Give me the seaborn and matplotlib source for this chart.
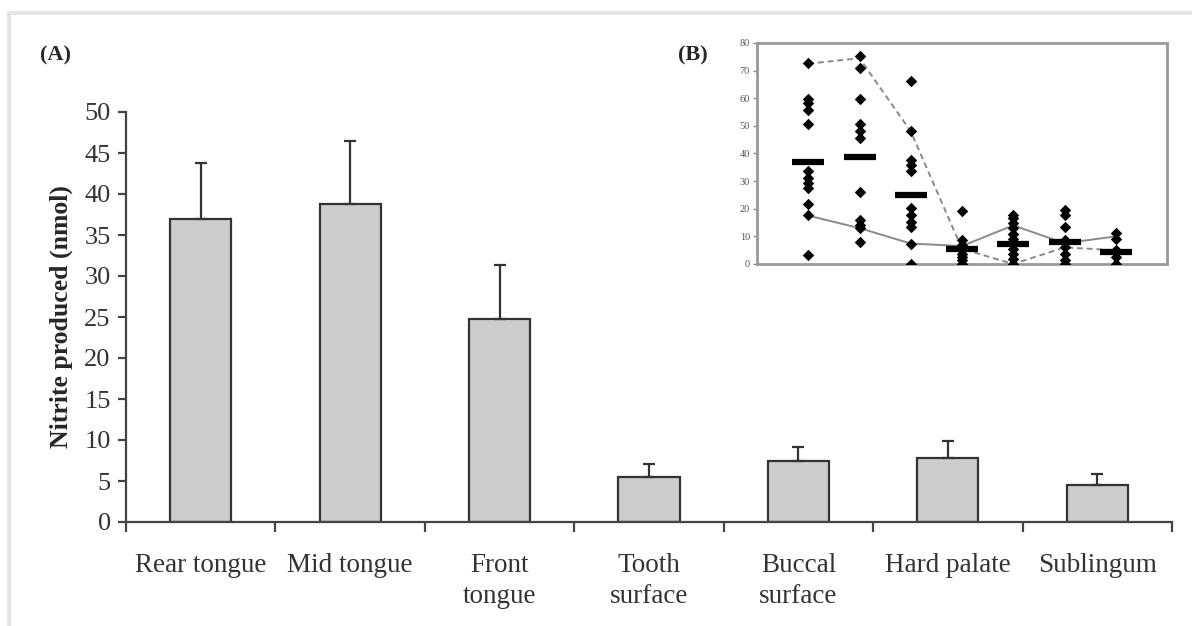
import numpy as np
import matplotlib
matplotlib.use("Agg")
import matplotlib.pyplot as plt
from matplotlib.lines import Line2D
import seaborn as sns

# bar chart (A)
sites = ["Rear tongue", "Mid tongue", "Front\ntongue", "Tooth\nsurface",
         "Buccal\nsurface", "Hard palate", "Sublingum"]
mean_nitrite = [37.0, 38.8, 24.8, 5.5, 7.4, 7.8, 4.5]
err_nitrite = [6.8, 7.7, 6.5, 1.6, 1.8, 2.1, 1.4]

# inset (B): individual subjects per site
rear_pts = [72.9, 59.6, 58.4, 55.9, 50.5, 33.7, 31.0, 29.2, 27.4, 21.6, 17.7, 3.2]
mid_pts = [75.4, 71.1, 59.6, 50.5, 48.0, 45.6, 26.0, 15.9, 14.0, 12.9, 8.0]
front_pts = [66.3, 48.3, 37.7, 35.9, 33.7, 20.1, 17.7, 15.3, 13.5, 7.4, 0.0]
tooth_pts = [19.3, 8.6, 7.0, 5.0, 3.8, 2.5, 1.3, 0.0]
buccal_pts = [17.7, 16.5, 14.7, 12.9, 11.0, 9.2, 7.8, 5.6, 3.8, 1.9, 0.0]
hard_pts = [19.5, 17.7, 13.5, 8.6, 6.2, 3.8, 1.3, 0.0]
sub_pts = [11.3, 9.2, 5.0, 2.5, 0.0]
subject_1 = [17.5, 13.0, 7.4, 6.5, 14.0, 7.5, 10.0]
subject_2 = [72.5, 74.5, 48.0, 5.5, 0.0, 6.0, 5.0]

sns.set_style("ticks")
plt.rcParams["font.family"] = ["Liberation Serif", "DejaVu Serif"]

fig = plt.figure(figsize=(11.92, 6.26), dpi=100)

# light grey frame round the figure
fig.add_artist(Line2D([9 / 1192, 1], [1 - 13 / 626] * 2, color="#e6e6e6", lw=3,
                      transform=fig.transFigure))
fig.add_artist(Line2D([9 / 1192] * 2, [0, 1 - 13 / 626], color="#e6e6e6", lw=3,
                      transform=fig.transFigure))

ax = fig.add_axes([126 / 1192, 1 - 522 / 626, 1046 / 1192, 410 / 626])
sns.barplot(x=sites, y=mean_nitrite, color="#cccccc", edgecolor="#333333",
            linewidth=1.6, width=0.41, errorbar=None, saturation=1, ax=ax)
xpos = np.arange(len(sites))
ax.errorbar(xpos, mean_nitrite, yerr=[np.zeros(len(sites)), err_nitrite],
            fmt="none", ecolor="#333333", elinewidth=1.6, capsize=4.5, capthick=1.6)

ax.set_xlim(-0.5, len(sites) - 0.5)
ax.set_ylim(0, 50)
ax.set_yticks(range(0, 51, 5))
ax.set_xticks(np.arange(-0.5, len(sites), 1.0), minor=True)
ax.tick_params(axis="x", which="major", length=0, labelsize=19.5, pad=22,
               colors="#333333")
for lab in ax.get_xticklabels():
    lab.set_linespacing(1.35)
ax.tick_params(axis="x", which="minor", length=7, width=1.6, color="#444444")
ax.tick_params(axis="y", length=6, width=1.6, labelsize=19, color="#444444",
               labelcolor="#333333", pad=5)
ax.set_ylabel("Nitrite produced (nmol)", fontsize=18.5, fontweight="bold", labelpad=8)
for s in ["top", "right"]:
    ax.spines[s].set_visible(False)
for s in ["left", "bottom"]:
    ax.spines[s].set_linewidth(1.6)
    ax.spines[s].set_color("#444444")

fig.text(40 / 1192, 1 - 55 / 626, "(A)", fontsize=16, fontweight="bold",
         va="center", ha="left")
fig.text(678 / 1192, 1 - 55 / 626, "(B)", fontsize=16, fontweight="bold",
         va="center", ha="left")

# inset
ins = fig.add_axes([757 / 1192, 1 - 264 / 626, 410 / 1192, 221 / 626])
groups = [rear_pts, mid_pts, front_pts, tooth_pts, buccal_pts, hard_pts, sub_pts]
xs = np.arange(1, 8)
ins.plot(xs, subject_1, color="#8a8a8a", lw=1.4, ls="-")
ins.plot(xs, subject_2, color="#8a8a8a", lw=1.4, ls=(0, (3, 2)))
for i, pts in enumerate(groups):
    ins.scatter([xs[i]] * len(pts), pts, marker="D", s=34, color="black",
                linewidths=0, zorder=3)
ins.scatter(xs, mean_nitrite, marker="_", s=520, linewidths=4.5, color="black", zorder=4)
ins.set_xlim(0, 8)
ins.set_ylim(0, 80)
ins.set_yticks(range(0, 81, 10))
ins.set_xticks([])
ins.tick_params(axis="y", length=3, width=1, labelsize=7.5, color="#888888",
                labelcolor="#555555", pad=2)
for s in ins.spines.values():
    s.set_color("#999999")
    s.set_linewidth(2)

fig.savefig("out.png", dpi=100)
